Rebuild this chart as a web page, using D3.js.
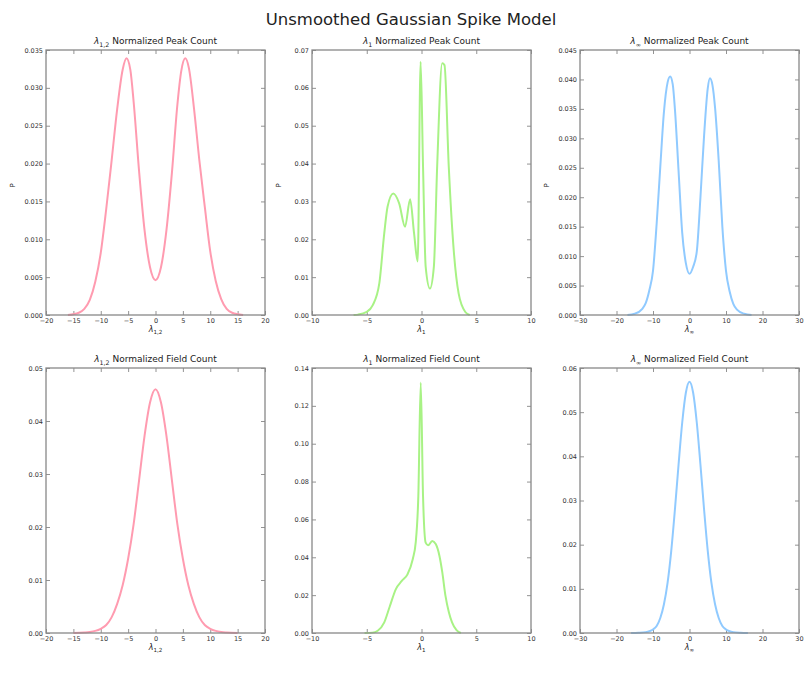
<!DOCTYPE html>
<html>
<head>
<meta charset="utf-8">
<script src="https://cdn.jsdelivr.net/npm/d3@7"></script>
<style>
  html, body { margin: 0; padding: 0; background: #fff; }
  svg { display: block; font-family: "DejaVu Sans", sans-serif; }
</style>
</head>
<body>
<svg id="chart" width="807" height="678"></svg>
<script>
// Figure title and per-panel text
const figureTitle = "Unsmoothed Gaussian Spike Model";
const normSubs = ["1,2", "1", "\u221E"];
const rowNames = ["Normalized Peak Count", "Normalized Field Count"];
const colColors = ["#ff9bb0", "#a8f285", "#90caff"];

// x-axis ranges and ticks per column
const xDomains = [[-20, 20], [-10, 10], [-30, 30]];
const xTicks = [
  [-20, -15, -10, -5, 0, 5, 10, 15, 20],
  [-10, -5, 0, 5, 10],
  [-30, -20, -10, 0, 10, 20, 30]
];

// y-axis ticks per panel (row-major)
const yTicksPeak12 = [0, 0.005, 0.010, 0.015, 0.020, 0.025, 0.030, 0.035];
const yTicksPeak1 = [0, 0.01, 0.02, 0.03, 0.04, 0.05, 0.06, 0.07];
const yTicksPeakInf = [0, 0.005, 0.010, 0.015, 0.020, 0.025, 0.030, 0.035, 0.040, 0.045];
const yTicksField12 = [0, 0.01, 0.02, 0.03, 0.04, 0.05];
const yTicksField1 = [0, 0.02, 0.04, 0.06, 0.08, 0.10, 0.12, 0.14];
const yTicksFieldInf = [0, 0.01, 0.02, 0.03, 0.04, 0.05, 0.06];
const yTickDigits = [3, 2, 3, 2, 2, 2];

// Peak count distributions
const peak12X = [-16, -14, -13, -12, -11, -10, -9, -8, -7, -6, -5.3, -4.6, -4, -3, -2, -1, 0,
                 1, 2, 3, 4, 4.7, 5.45, 6.1, 7, 8, 9, 10, 11, 12, 13, 14, 16];
const peak12Y = [0, 0.0003, 0.0008, 0.0020, 0.0044, 0.0082, 0.0140, 0.0205, 0.0272, 0.0324, 0.0339, 0.0324, 0.0282, 0.0190, 0.0112, 0.0063, 0.0046,
                 0.0063, 0.0112, 0.0188, 0.0278, 0.0322, 0.0339, 0.0326, 0.0275, 0.0205, 0.0143, 0.0084, 0.0045, 0.0021, 0.0008, 0.0003, 0];

const peak1X = [-6.2, -5.8, -5, -4.45, -3.85, -3.4, -3.1, -2.58, -2.04, -1.5, -1.04, -0.68, -0.35, -0.08,
                0.14, 0.38, 0.77, 1.13, 1.43, 1.89, 2.1, 2.49, 2.94, 3.39, 4.0, 4.4];
const peak1Y = [0, 0.0001, 0.0008, 0.0026, 0.0084, 0.0216, 0.0286, 0.0321, 0.0295, 0.0233, 0.0306, 0.0216, 0.0141, 0.0669,
                0.0392, 0.0128, 0.0070, 0.0128, 0.0392, 0.0665, 0.0660, 0.0392, 0.0172, 0.0057, 0.0008, 0];

const peakInfX = [-17, -15, -13, -12, -11, -10, -9, -8, -7, -6, -5.3, -4.6, -4, -3, -2, -1, 0,
                  1, 2, 3, 4, 5, 5.6, 6.3, 7, 8, 9, 10, 11, 12, 13, 15, 17];
const peakInfY = [0, 0.0002, 0.0010, 0.0020, 0.0042, 0.0075, 0.0155, 0.0252, 0.0345, 0.0395, 0.0405, 0.0392, 0.0350, 0.0245, 0.0140, 0.0088, 0.0070,
                  0.0082, 0.0108, 0.0200, 0.0305, 0.0385, 0.0402, 0.0390, 0.0352, 0.0262, 0.0150, 0.0075, 0.0040, 0.0019, 0.0009, 0.0002, 0];

// Field count distributions
const field12X = [-15, -13, -12, -11, -10, -9, -8, -7, -6, -5, -4, -3, -2, -1, 0,
                  1, 2, 3, 4, 5, 6, 7, 8, 9, 10, 11, 12, 13, 15];
const field12Y = [0, 0.0001, 0.0002, 0.0004, 0.0008, 0.0015, 0.0030, 0.0055, 0.0090, 0.0140, 0.0205, 0.0288, 0.0372, 0.0435, 0.0460,
                  0.0435, 0.0372, 0.0288, 0.0205, 0.0140, 0.0090, 0.0055, 0.0030, 0.0015, 0.0008, 0.0004, 0.0002, 0.0001, 0];

const field1X = [-5.2, -4.5, -4.0, -3.4, -2.9, -2.34, -1.8, -1.28, -0.8, -0.53, -0.29, -0.07,
                 0.14, 0.38, 0.6, 0.98, 1.3, 1.64, 1.9, 2.19, 2.5, 2.79, 3.2, 3.6];
const field1Y = [0, 0.0002, 0.0012, 0.0056, 0.0140, 0.0232, 0.0275, 0.0310, 0.0390, 0.0477, 0.0723, 0.1323,
                 0.0723, 0.0477, 0.0463, 0.0486, 0.0470, 0.0407, 0.0320, 0.0196, 0.0110, 0.0056, 0.0015, 0];

const fieldInfX = [-16, -14, -12, -11, -10, -9, -8, -7, -6, -5, -4, -3, -2, -1, 0,
                   1, 2, 3, 4, 5, 6, 7, 8, 9, 10, 11, 12, 14, 16];
const fieldInfY = [0, 0.00005, 0.0002, 0.0004, 0.0008, 0.0016, 0.0034, 0.0065, 0.0114, 0.0186, 0.0279, 0.0381, 0.0476, 0.0544, 0.0569,
                   0.0544, 0.0476, 0.0381, 0.0279, 0.0186, 0.0114, 0.0065, 0.0034, 0.0016, 0.0008, 0.0004, 0.0002, 0.00005, 0];

const panels = [
  { row: 0, col: 0, xs: peak12X, ys: peak12Y, yTicks: yTicksPeak12 },
  { row: 0, col: 1, xs: peak1X, ys: peak1Y, yTicks: yTicksPeak1 },
  { row: 0, col: 2, xs: peakInfX, ys: peakInfY, yTicks: yTicksPeakInf },
  { row: 1, col: 0, xs: field12X, ys: field12Y, yTicks: yTicksField12 },
  { row: 1, col: 1, xs: field1X, ys: field1Y, yTicks: yTicksField1 },
  { row: 1, col: 2, xs: fieldInfX, ys: fieldInfY, yTicks: yTicksFieldInf }
];

// Grid geometry
const colLeft = [46, 312, 580];
const colWidth = 219;
const rowTop = [50, 368];
const rowHeight = 265;

const svg = d3.select("#chart");

svg.append("text")
  .attr("x", 411).attr("y", 25)
  .attr("text-anchor", "middle")
  .attr("font-size", 16.5)
  .attr("fill", "#222")
  .text(figureTitle);

function subLabel(sel, sub, rest, size) {
  sel.append("tspan").attr("font-style", "italic").text("\u03BB");
  sel.append("tspan").attr("font-size", size * 0.7).attr("dy", size * 0.3).text(sub);
  if (rest) sel.append("tspan").attr("dy", -size * 0.3).text(" " + rest);
}

panels.forEach((p, i) => {
  const x0 = colLeft[p.col], y0 = rowTop[p.row];
  const w = colWidth, h = rowHeight;
  const g = svg.append("g").attr("transform", `translate(${x0},${y0})`);

  const x = d3.scaleLinear().domain(xDomains[p.col]).range([0, w]);
  const yMax = p.yTicks[p.yTicks.length - 1];
  const y = d3.scaleLinear().domain([0, yMax]).range([h, 0]);

  const yFmt = d3.format("." + yTickDigits[i] + "f");
  const xFmt = d3.format("d");

  // inward ticks on all four sides, matplotlib-classic style
  const axB = d3.axisBottom(x).tickValues(xTicks[p.col]).tickSize(-4).tickPadding(3).tickFormat(xFmt);
  const axT = d3.axisTop(x).tickValues(xTicks[p.col]).tickSize(-4).tickFormat("");
  const axL = d3.axisLeft(y).tickValues(p.yTicks).tickSize(-4).tickPadding(3).tickFormat(yFmt);
  const axR = d3.axisRight(y).tickValues(p.yTicks).tickSize(-4).tickFormat("");

  const styleAxis = a => {
    a.select(".domain").remove();
    a.selectAll("line").attr("stroke", "#777").attr("stroke-width", 0.8);
    a.selectAll("text").attr("font-size", 6.5).attr("fill", "#333")
      .attr("font-family", "DejaVu Sans, sans-serif");
  };

  g.append("g").attr("transform", `translate(0,${h})`).call(axB).call(styleAxis);
  g.append("g").call(axT).call(styleAxis);
  g.append("g").call(axL).call(styleAxis);
  g.append("g").attr("transform", `translate(${w},0)`).call(axR).call(styleAxis);

  const line = d3.line()
    .x((d, k) => x(p.xs[k]))
    .y(d => y(d))
    .curve(d3.curveMonotoneX);

  g.append("path")
    .datum(p.ys)
    .attr("d", line)
    .attr("fill", "none")
    .attr("stroke", colColors[p.col])
    .attr("stroke-width", 2)
    .attr("stroke-linejoin", "round");

  // frame
  g.append("rect")
    .attr("width", w).attr("height", h)
    .attr("fill", "none")
    .attr("stroke", "#888")
    .attr("stroke-width", 1.3);

  // panel title
  const t = g.append("text")
    .attr("x", w / 2).attr("y", -6)
    .attr("text-anchor", "middle")
    .attr("font-size", 9)
    .attr("fill", "#222");
  subLabel(t, normSubs[p.col], rowNames[p.row], 9);

  // x label
  const xl = g.append("text")
    .attr("x", w / 2).attr("y", h + 17)
    .attr("text-anchor", "middle")
    .attr("font-size", 8)
    .attr("fill", "#222");
  subLabel(xl, normSubs[p.col], null, 8);

  // y label on the top row only
  if (p.row === 0) {
    g.append("text")
      .attr("transform", `translate(${-31},${h / 2 + 3}) rotate(-90)`)
      .attr("text-anchor", "middle")
      .attr("font-size", 7)
      .attr("fill", "#222")
      .text("P");
  }
});
</script>
</body>
</html>
